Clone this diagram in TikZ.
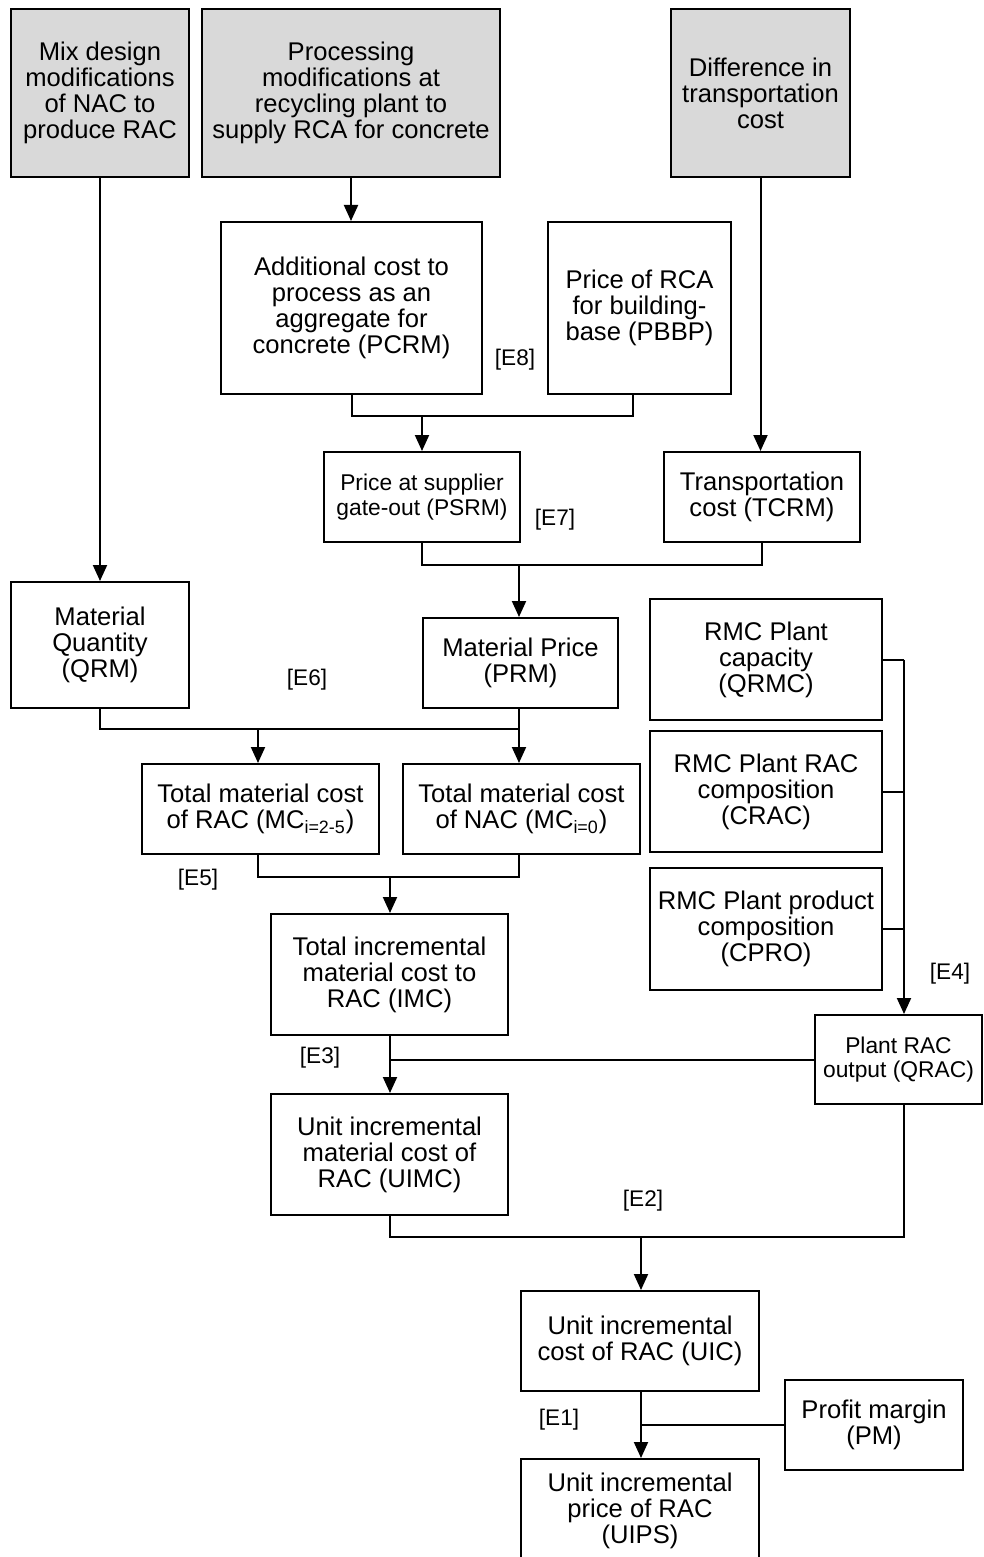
\documentclass[tikz,border=0pt]{standalone}
\usepackage{fontspec}
\setmainfont{Liberation Sans}
\usetikzlibrary{arrows.meta}

\begin{document}
\begin{tikzpicture}[x=0.5pt,y=-0.5pt,line width=1pt,
  box/.style={draw,line width=1pt,align=center,inner sep=0pt,font=\fontsize{12.8}{13}\selectfont},
  src/.style={box,fill=black!15},
  small/.style={font=\fontsize{11.4}{12.2}\selectfont},
  lbl/.style={font=\fontsize{11.3}{13}\selectfont},
  arr/.style={-{Triangle[width=7pt,length=8pt]}}]
\useasboundingbox (0,0) rectangle (984,1557);
\clip (0,0) rectangle (984,1557);

% inputs
\node[src,minimum width=89pt,minimum height=84pt] (mix) at (100,93) {Mix design\\modifications\\of NAC to\\produce RAC};
\node[src,minimum width=149pt,minimum height=84pt] (proc) at (351,93) {Processing\\modifications at\\recycling plant to\\supply RCA for concrete};
\node[src,minimum width=89.5pt,minimum height=84pt] (diff) at (760.5,93) {Difference in\\transportation\\cost};

\node[box,minimum width=130.5pt,minimum height=86pt] (pcrm) at (351.5,308) {Additional cost to\\process as an\\aggregate for\\concrete (PCRM)};
\node[box,minimum width=91.5pt,minimum height=86pt] (pbbp) at (639.5,308) {Price of RCA\\for building-\\base (PBBP)};

\node[box,small,minimum width=98pt,minimum height=45pt] (psrm) at (422,497) {Price at supplier\\gate-out (PSRM)};
\node[box,minimum width=98pt,minimum height=45pt] (tcrm) at (762,497) {Transportation\\cost (TCRM)};

\node[box,minimum width=89pt,minimum height=63pt] (qrm) at (100,645) {Material\\Quantity\\(QRM)};
\node[box,minimum width=97.5pt,minimum height=45pt] (prm) at (520.5,663) {Material Price\\(PRM)};

% plant data
\node[box,minimum width=116pt,minimum height=60.5pt] (qrmc) at (766,659.5) {RMC Plant\\capacity\\(QRMC)};
\node[box,minimum width=116pt,minimum height=60.5pt] (crac) at (766,791.5) {RMC Plant RAC\\composition\\(CRAC)};
\node[box,minimum width=116pt,minimum height=61pt] (cpro) at (766,929) {RMC Plant product\\composition\\(CPRO)};

\node[box,minimum width=118.5pt,minimum height=45pt] (mcrac) at (260.5,809) {Total material cost\\of RAC (MC\textsubscript{i=2-5})};
\node[box,minimum width=118.5pt,minimum height=45pt] (mcnac) at (521.5,809) {Total material cost\\of NAC (MC\textsubscript{i=0})};

\node[box,minimum width=118.5pt,minimum height=60.5pt] (imc) at (389.5,974.5) {Total incremental\\material cost to\\RAC (IMC)};
\node[box,small,minimum width=83.5pt,minimum height=44.5pt] (qrac) at (898.5,1059.5) {Plant RAC\\output (QRAC)};
\node[box,minimum width=118.5pt,minimum height=60.5pt] (uimc) at (389.5,1154.5) {Unit incremental\\material cost of\\RAC (UIMC)};

\node[box,minimum width=119pt,minimum height=50pt] (uic) at (640,1341) {Unit incremental\\cost of RAC (UIC)};
\node[box,minimum width=89pt,minimum height=45pt] (pm) at (874,1425) {Profit margin\\(PM)};
\node[box,minimum width=119pt,minimum height=52pt] (uips) at (640,1511) {Unit incremental\\price of RAC\\(UIPS)};

% equation labels
\node[lbl] (e8) at (515,360) {[E8]};
\node[lbl] (e7) at (555,520) {[E7]};
\node[lbl] (e6) at (307,680) {[E6]};
\node[lbl] (e5) at (198,880) {[E5]};
\node[lbl] (e4) at (950,974) {[E4]};
\node[lbl] (e3) at (320,1058) {[E3]};
\node[lbl] (e2) at (643,1201) {[E2]};
\node[lbl] (e1) at (559,1420) {[E1]};

\coordinate (j8) at (422,416);
\coordinate (j7) at (519,565);
\coordinate (j6) at (519,729);
\coordinate (j5) at (390,877);
\coordinate (j4) at (904,659.5);
\coordinate (j2) at (641,1237);

\draw[arr] (mix.south) -- (qrm.north);
\draw[arr] (proc.south) -- (proc.south |- pcrm.north);
\draw[arr] (diff.south) -- (diff.south |- tcrm.north);

\draw (pcrm.south) |- (j8) -| ([xshift=-3.25pt]pbbp.south);
\draw[arr] (j8) -- (psrm.north);
\draw (psrm.south) |- (j7) -| (tcrm.south);
\draw[arr] (j7) -- (j7 |- prm.north);

\draw (qrm.south) |- (j6) -- (j6 |- prm.south);
\draw[arr] (j6) -- (j6 |- mcnac.north);
\draw[arr] (j6 -| 258,0) -- (258,0 |- mcrac.north);
\draw (mcrac.south -| 258,0) |- (j5) -| (mcnac.south -| j6);
\draw[arr] (j5) -- (j5 |- imc.north);

\draw (qrmc.east) -- (j4);
\draw (crac.east) -- (crac.east -| j4);
\draw (cpro.east) -- (cpro.east -| j4);
\draw[arr] (j4) -- (j4 |- qrac.north);

\draw[arr] (imc.south -| j5) -- (j5 |- uimc.north);
\draw (qrac.west) -- (qrac.west -| j5);
\draw (uimc.south -| j5) |- (j2) -| (qrac.south -| j4);
\draw[arr] (j2) -- (j2 |- uic.north);

\draw[arr] (uic.south -| j2) -- (j2 |- uips.north);
\draw (pm.west) -- (pm.west -| j2);

\end{tikzpicture}
\end{document}
